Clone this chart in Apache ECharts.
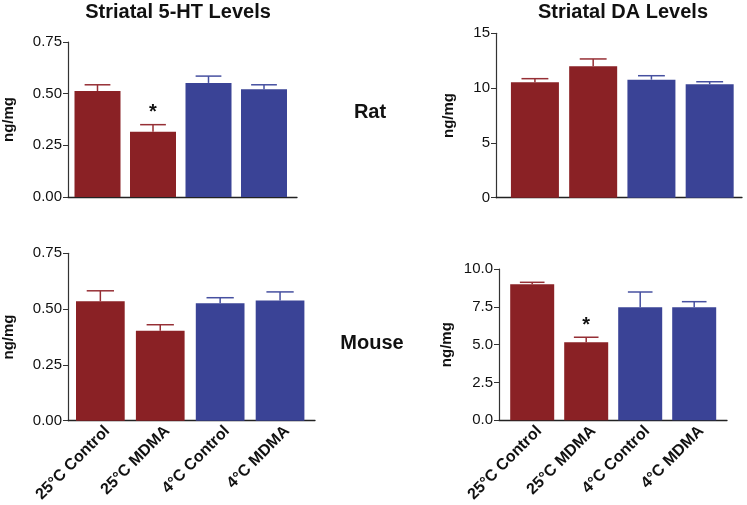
<!DOCTYPE html>
<html><head><meta charset="utf-8">
<script src="https://cdn.jsdelivr.net/npm/echarts@6/dist/echarts.min.js"></script>
<style>html,body{margin:0;padding:0;background:#fff}#c{width:747px;height:505px}</style>
</head><body><div id="c"></div>
<script>
const categories = ['25°C Control', '25°C MDMA', '4°C Control', '4°C MDMA'];
const barColors = ['#8a2125', '#8a2125', '#3a4396', '#3a4396'];
const errColors = ['#962f35', '#962f35', '#4650a0', '#4650a0'];

const rat5htMean = [0.513, 0.316, 0.552, 0.521];
const rat5htSem = [0.030, 0.034, 0.033, 0.022];
const rat5htStar = [false, true, false, false];

const ratDaMean = [10.53, 11.99, 10.77, 10.35];
const ratDaSem = [0.33, 0.67, 0.36, 0.23];
const ratDaStar = [false, false, false, false];

const mouse5htMean = [0.535, 0.403, 0.526, 0.539];
const mouse5htSem = [0.047, 0.027, 0.025, 0.038];
const mouse5htStar = [false, false, false, false];

const mouseDaMean = [8.99, 5.16, 7.47, 7.47];
const mouseDaSem = [0.13, 0.33, 1.01, 0.37];
const mouseDaStar = [false, true, false, false];

const ticks5ht = [0, 0.25, 0.5, 0.75];
const ticksRatDa = [0, 5, 10, 15];
const ticksMouseDa = [0, 2.5, 5, 7.5, 10];

const FONT = '"Liberation Sans", Arial, sans-serif';
const chart = echarts.init(document.getElementById('c'), null, {renderer: 'canvas'});

const panels = [
  {mean: rat5htMean, sem: rat5htSem, star: rat5htStar, ticks: ticks5ht, dec: 2, showX: false,
   line: {left: 64, top: 42, width: 233, height: 155}, bar: {left: 69.75, width: 222}, bw: 46, nameGap: 52},
  {mean: ratDaMean, sem: ratDaSem, star: ratDaStar, ticks: ticksRatDa, dec: 0, showX: false,
   line: {left: 496, top: 33.3, width: 246, height: 164.4}, bar: {left: 505.8, width: 233}, bw: 48, nameGap: 40},
  {mean: mouse5htMean, sem: mouse5htSem, star: mouse5htStar, ticks: ticks5ht, dec: 2, showX: true,
   line: {left: 64, top: 253.3, width: 251, height: 167.4}, bar: {left: 70.4, width: 239.6}, bw: 48.7, nameGap: 52},
  {mean: mouseDaMean, sem: mouseDaSem, star: mouseDaStar, ticks: ticksMouseDa, dec: 1, showX: true,
   line: {left: 499, top: 269, width: 228, height: 151.3}, bar: {left: 505.2, width: 216}, bw: 44, nameGap: 45}
];

const grid = [], xAxis = [], yAxis = [], series = [];
panels.forEach((p, i) => {
  const gL = grid.length;
  grid.push({left: p.line.left, top: p.line.top, width: p.line.width, height: p.line.height});
  grid.push({left: p.bar.left, top: p.line.top, width: p.bar.width, height: p.line.height});
  grid.push({left: p.bar.left + 7, top: p.line.top, width: p.bar.width, height: p.line.height});
  const tmin = p.ticks[0], tmax = p.ticks[p.ticks.length - 1], tint = p.ticks[1] - p.ticks[0];
  // axis-line grid
  xAxis.push({type: 'value', gridIndex: gL, min: 0, max: 1, axisLabel: {show: false}, axisTick: {show: false},
    splitLine: {show: false}, axisLine: {show: true, lineStyle: {color: '#222', width: 1.3}}});
  yAxis.push({type: 'value', gridIndex: gL, min: tmin, max: tmax, interval: tint,
    name: 'ng/mg', nameLocation: 'middle', nameGap: p.nameGap, nameRotate: 90,
    nameTextStyle: {fontFamily: FONT, fontWeight: 'bold', fontSize: 15, color: '#111'},
    axisLine: {show: true, lineStyle: {color: '#333', width: 1.2}},
    axisTick: {show: true, length: 5, lineStyle: {color: '#333'}},
    splitLine: {show: false},
    axisLabel: {fontFamily: FONT, fontSize: 15, color: '#111', margin: 6,
      formatter: v => Number(v).toFixed(p.dec)}});
  // bar grid
  xAxis.push({type: 'category', gridIndex: gL + 1, data: categories,
    axisLine: {show: false}, axisTick: {show: false}, splitLine: {show: false}, axisLabel: {show: false}});
  yAxis.push({type: 'value', gridIndex: gL + 1, min: tmin, max: tmax, show: false, splitLine: {show: false}});
  // label grid (category labels only)
  xAxis.push({type: 'category', gridIndex: gL + 2, data: categories,
    axisLine: {show: false}, axisTick: {show: false}, splitLine: {show: false},
    axisLabel: {show: p.showX, rotate: 45, margin: 12, interval: 0,
      fontFamily: FONT, fontWeight: 'bold', fontSize: 16, color: '#111'}});
  yAxis.push({type: 'value', gridIndex: gL + 2, min: tmin, max: tmax, show: false, splitLine: {show: false}});

  series.push({type: 'bar', xAxisIndex: gL + 1, yAxisIndex: gL + 1, barWidth: p.bw, silent: true,
    data: p.mean.map((v, k) => ({value: v, itemStyle: {color: barColors[k]}})), z: 2});
  series.push({type: 'custom', xAxisIndex: gL + 1, yAxisIndex: gL + 1, silent: true, z: 3,
    data: p.mean.map((v, k) => [k, v, v + p.sem[k], p.star[k] ? 1 : 0]),
    renderItem: (params, api) => {
      const k = api.value(0);
      const base = api.coord([k, api.value(1)]);
      const top = api.coord([k, api.value(2)]);
      const hw = p.bw * 0.28;
      const col = errColors[k];
      const children = [
        {type: 'line', shape: {x1: base[0], y1: base[1], x2: top[0], y2: top[1]}, style: {stroke: col, lineWidth: 1.5}},
        {type: 'line', shape: {x1: top[0] - hw, y1: top[1], x2: top[0] + hw, y2: top[1]}, style: {stroke: col, lineWidth: 1.5}}
      ];
      if (api.value(3)) {
        children.push({type: 'text', style: {text: '*', x: top[0], y: top[1] - 12, textAlign: 'center', textVerticalAlign: 'middle',
          font: 'bold 20px ' + FONT, fill: '#111'}});
      }
      return {type: 'group', children};
    }});
  // empty series so the label grid axes are laid out
  series.push({type: 'bar', xAxisIndex: gL + 2, yAxisIndex: gL + 2, data: [], silent: true});
});

const texts = [
  {text: 'Striatal 5-HT Levels', x: 178, y: 12, size: 20},
  {text: 'Striatal DA Levels', x: 623, y: 12, size: 20},
  {text: 'Rat', x: 370, y: 112, size: 20},
  {text: 'Mouse', x: 372, y: 343, size: 20}
];

chart.setOption({
  animation: false,
  backgroundColor: '#fff',
  grid, xAxis, yAxis, series,
  graphic: texts.map(t => ({type: 'text', x: t.x, y: t.y, style: {text: t.text, textAlign: 'center', textVerticalAlign: 'middle',
    font: 'bold ' + t.size + 'px ' + FONT, fill: '#111'}}))
});
</script></body></html>
